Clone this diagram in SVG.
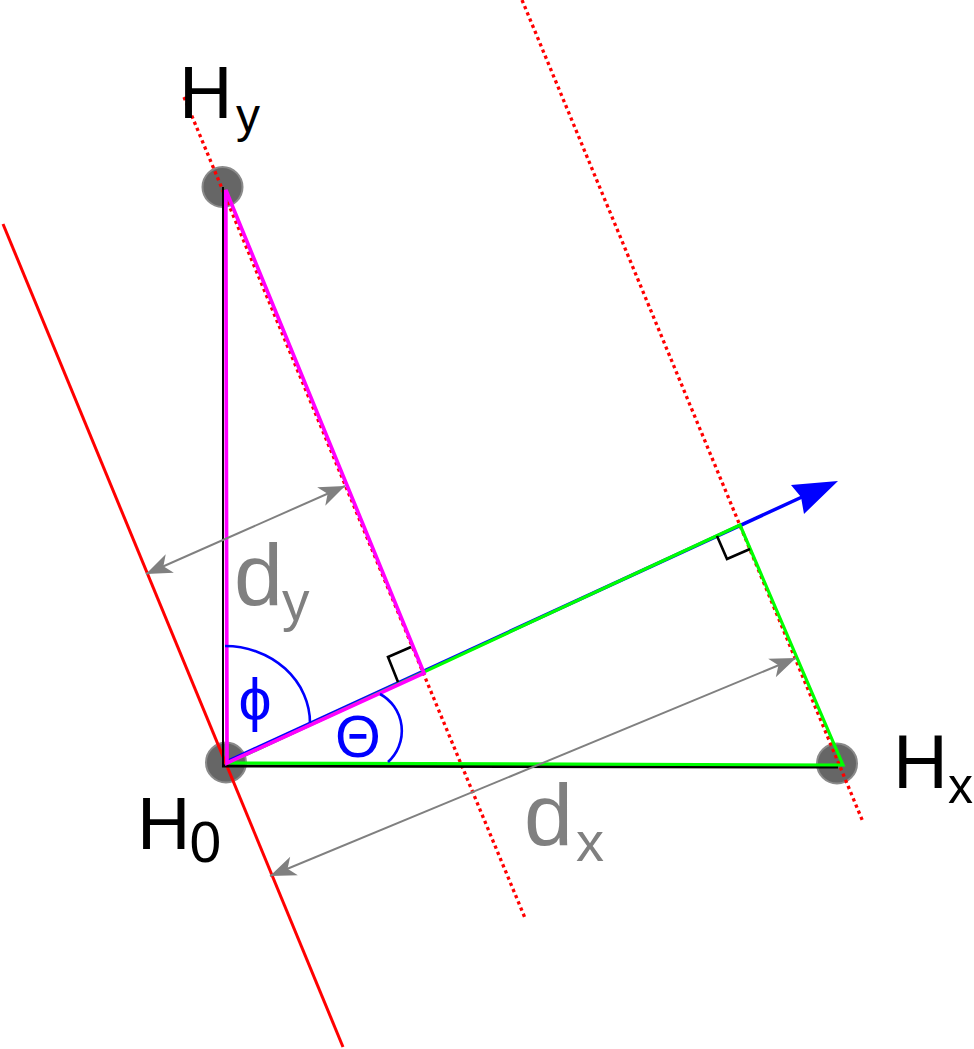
<svg xmlns="http://www.w3.org/2000/svg" width="974" height="1049" viewBox="0 0 974 1049">
<style>
.lbl{font-family:"Liberation Sans",Arial,sans-serif;}
.blk{fill:#000000;}
.gry{fill:#808080;}
.blu{fill:#0000ff;}
.dot{fill:none;stroke:#ff0000;stroke-width:3.3;stroke-dasharray:3.3 3.4;}
.node{fill:#666666;stroke:#8a8a8a;stroke-width:2;}
.dim{fill:none;stroke:#808080;stroke-width:2;marker-start:url(#ga);marker-end:url(#ga);}
</style>
<defs>
<marker id="ga" markerUnits="userSpaceOnUse" markerWidth="30" markerHeight="24" viewBox="-28 -12 30 24" refX="0" refY="0" orient="auto-start-reverse">
<path d="M0,0 L-26,-10 L-19,0 L-26,10 Z" fill="#808080"/>
</marker>
</defs>
<rect width="974" height="1049" fill="#ffffff"/>
<g id="node-Hy"><circle class="node" cx="222.5" cy="187" r="20"/></g>
<g id="node-H0"><circle class="node" cx="226" cy="762.5" r="20"/></g>
<g id="node-Hx"><circle class="node" cx="837" cy="763.5" r="20"/></g>
<g id="connectors">
<line x1="3" y1="224" x2="343" y2="1047" stroke="#ff0000" stroke-width="3"/>
<line class="dot" x1="184" y1="97" x2="525" y2="918"/>
<line class="dot" x1="522" y1="0" x2="863" y2="822"/>
<line x1="223" y1="187" x2="223" y2="766" stroke="#000000" stroke-width="2"/>
<line x1="222" y1="766" x2="838" y2="767" stroke="#000000" stroke-width="3"/>
<line x1="226" y1="762" x2="802" y2="497" stroke="#0000ff" stroke-width="3.5"/>
<polygon points="838,481 791,485 801,497 804,514" fill="#0000ff"/>
<polygon points="228,763 740,525 843,765" fill="none" stroke="#00ff00" stroke-width="3.2" stroke-linejoin="miter"/>
<polygon points="225.8,190 424,673 227,763" fill="none" stroke="#ff00ff" stroke-width="3.7" stroke-linejoin="miter"/>
<path d="M398,682 L388,657 L411,647" fill="none" stroke="#000000" stroke-width="2.6"/>
<path d="M717,536 L727,559 L750,549" fill="none" stroke="#000000" stroke-width="2.6"/>
<path d="M225,646 A85,77 0 0 1 310,723" fill="none" stroke="#0000ff" stroke-width="2.6"/>
<path d="M380,694 A42,42 0 0 1 388,762" fill="none" stroke="#0000ff" stroke-width="2.6"/>
<line class="dim" x1="146" y1="574" x2="345" y2="486"/>
<line class="dim" x1="270" y1="876" x2="796" y2="658"/>
</g>
<g id="labels">
<text class="lbl blk" x="179" y="118" font-size="74">H</text>
<text class="lbl blk" x="236" y="132" font-size="48">y</text>
<text class="lbl blk" x="137" y="849" font-size="74">H</text>
<text class="lbl blk" x="189.5" y="862" font-size="57">0</text>
<text class="lbl blk" x="893" y="788" font-size="76">H</text>
<text class="lbl blk" x="948" y="803" font-size="50">x</text>
<text class="lbl gry" x="234" y="605" font-size="88">d</text>
<text class="lbl gry" x="282" y="620" font-size="55">y</text>
<text class="lbl gry" x="524" y="845" font-size="88">d</text>
<text class="lbl gry" x="576" y="861" font-size="56">x</text>
<text class="lbl blu" x="255" y="720" font-size="59" text-anchor="middle">ϕ</text>
<text class="lbl blu" x="335" y="757" font-size="59">Θ</text>
</g>
</svg>
